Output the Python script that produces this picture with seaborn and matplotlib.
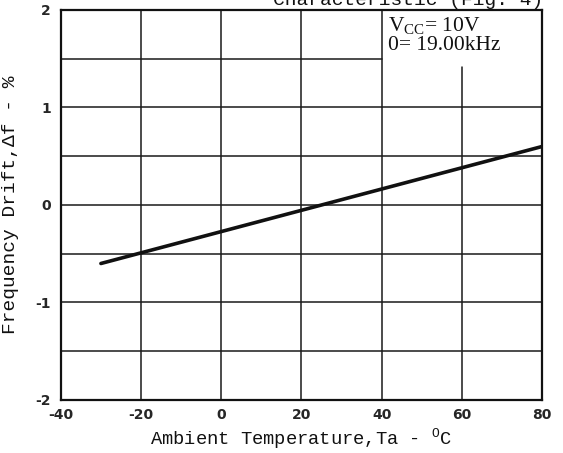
import matplotlib
matplotlib.use("Agg")
import matplotlib.pyplot as plt
import seaborn as sns
import pandas as pd

temp_c = [-30, 80]
drift_pct = [-0.60, 0.60]
x_ticks = [-40, -20, 0, 20, 40, 60, 80]
y_ticks = [-2, -1, 0, 1, 2]
y_grid = [-1.5, -1, -0.5, 0, 0.5, 1, 1.5]

sns.set_style("white")
plt.rcParams['font.family'] = ['Liberation Mono', 'DejaVu Sans Mono']

df = pd.DataFrame({"Ta": temp_c, "drift": drift_pct})

fig = plt.figure(figsize=(5.63, 4.53), dpi=100)
ax = fig.add_axes([0.108, 0.117, 0.855, 0.861])

# grid by hand, the top right cell holds the conditions text
for yv in y_grid:
    if yv == 1.5:
        ax.plot([-40, 40], [yv, yv], color="#1a1a1a", lw=1.1, zorder=1)
    else:
        ax.axhline(yv, color="#1a1a1a", lw=1.1, zorder=1)
for xv in x_ticks[1:-1]:
    if xv == 60:
        ax.plot([xv, xv], [-2, 1.42], color="#1a1a1a", lw=1.1, zorder=1)
    else:
        ax.axvline(xv, color="#1a1a1a", lw=1.1, zorder=1)

sns.lineplot(data=df, x="Ta", y="drift", ax=ax, color="#111111", lw=2.6, zorder=3)

ax.set_xlim(-40, 80)
ax.set_ylim(-2, 2)
ax.set_xticks(x_ticks)
ax.set_yticks(y_ticks)
ax.set_xticklabels([str(v) for v in x_ticks], family="DejaVu Sans", weight="bold", fontsize=10)
ax.set_yticklabels([str(v) for v in y_ticks], family="DejaVu Sans", weight="bold", fontsize=10)
ax.tick_params(axis="x", length=0, pad=6)
ax.tick_params(axis="y", length=0, pad=7)

for s in ax.spines.values():
    s.set_color("#111111")
    s.set_linewidth(1.6)

ax.text(41.5, 1.95, "$\\mathregular{V_{CC}}$= 10V", fontsize=15.5, family="Liberation Serif",
        va="top", ha="left", color="#111111")
ax.text(41.5, 1.73, "0= 19.00kHz", fontsize=15.5, family="Liberation Serif",
        va="top", ha="left", color="#111111")

ax.set_xlabel("Ambient Temperature,Ta - $\\mathregular{^{O}}$C", fontsize=13.5, labelpad=3,
              color="#111111")
ax.set_ylabel("Frequency Drift,\u0394f - %", fontsize=14, labelpad=12, color="#111111")

# header of the datasheet page, cut off by the scan
fig.text(0.965, 1.018, "Characteristic (Fig. 4)", ha="right", va="top",
         fontsize=14, color="#111111")

fig.savefig("out.png", dpi=100)
